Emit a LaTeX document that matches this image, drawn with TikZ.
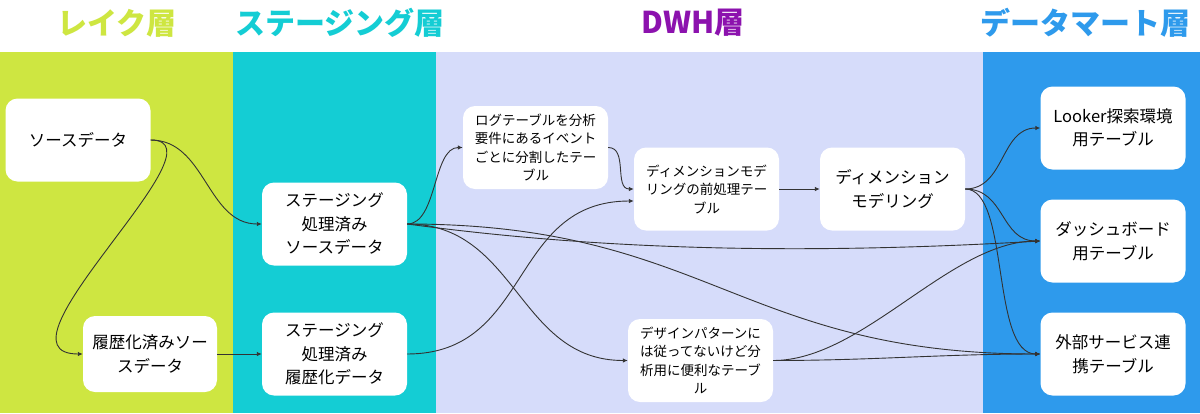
\documentclass[tikz,border=0pt]{standalone}
\usepackage{fontspec}
\setmainfont{Noto Sans CJK JP}
\usetikzlibrary{arrows.meta}
\usepackage{xcolor}
\definecolor{lakecol}{HTML}{CEE641}
\definecolor{stgcol}{HTML}{14CDD4}
\definecolor{dwhcol}{HTML}{D6DCFA}
\definecolor{dwhtitle}{HTML}{8C12AE}
\definecolor{martcol}{HTML}{2E9AEC}
\definecolor{linkcol}{HTML}{333333}

\begin{document}
\begin{tikzpicture}[x=1pt,y=-1pt,
  box/.style={fill=white, rounded corners=12pt, minimum width=145pt, minimum height=83pt, align=center, inner sep=0pt},
  bigtxt/.style={font=\fontsize{16.5}{23.5}\selectfont},
  smalltxt/.style={font=\fontsize{13.5}{18.5}\selectfont},
  layer/.style={font=\fontsize{30}{30}\selectfont\bfseries},
  link/.style={draw=linkcol, line width=0.9pt, -{Latex[length=5pt,width=4.5pt]}}]

\useasboundingbox (0,0) rectangle (1200,413);

%%%%%% the four layers %%%
{
\fill[white] (0,0) rectangle (1200,413);
\fill[lakecol] (0,52) rectangle (233,413);
\fill[stgcol] (233,52) rectangle (436,413);
\fill[dwhcol] (436,52) rectangle (983,413);
\fill[martcol] (983,52) rectangle (1200,413);

\node[layer, text=lakecol] (t-lake) at (117,23) {レイク層};
\node[layer, text=stgcol] (t-stg) at (340,23) {ステージング層};
\node[layer, text=dwhtitle] (t-dwh) at (693,23) {DWH層};
\node[layer, text=martcol] (t-mart) at (1085,23) {データマート層};
}

%%%%%%%%%% tables %%%%%%%%
{
\node[box, bigtxt] (src) at (78,140) {ソースデータ};
\node[box, bigtxt, minimum width=134pt, minimum height=76pt] (hist) at (150,354) {履歴化済みソー\\スデータ};

\node[box, bigtxt] (stgsrc) at (334.5,224) {ステージング\\処理済み\\ソースデータ};
\node[box, bigtxt] (stghist) at (334.5,354) {ステージング\\処理済み\\履歴化データ};

\node[box, smalltxt] (log) at (535.5,147.5) {ログテーブルを分析\\要件にあるイベント\\ごとに分割したテー\\ブル};
\node[box, smalltxt] (pre) at (706.5,189) {ディメンションモデ\\リングの前処理テー\\ブル};
\node[box, bigtxt] (dim) at (892.5,189) {ディメンション\\モデリング};
\node[box, smalltxt] (design) at (700.5,360.5) {デザインパターンに\\は従ってないけど分\\析用に便利なテーブ\\ル};

\node[box, bigtxt] (looker) at (1113,128) {Looker探索環境\\用テーブル};
\node[box, bigtxt] (dash) at (1113,241) {ダッシュボード\\用テーブル};
\node[box, bigtxt] (ext) at (1113,354) {外部サービス連\\携テーブル};
}

%%%%%%%%%%%%     flows   %%%%%%%%%%%%
{
\draw[link] (src.east) .. controls +(55,0) and +(-55,0) .. (stgsrc.west);
\draw[link] (src.east) .. controls +(80,0) and +(-100,0) .. (hist.west);
\draw[link] (hist.east) -- (stghist.west);

\draw[link] (stgsrc.east) .. controls +(30,0) and +(-30,0) .. (log.west);
\draw[link] (log.east) .. controls +(20,0) and +(-20,0) .. (pre.west);
\draw[link] (stghist.east) .. controls +(125,0) and +(-125,0) .. ([yshift=-12pt]pre.west);
\draw[link] (stgsrc.east) .. controls +(110,0) and +(-110,0) .. (design.west);
\draw[link] (pre.east) -- (dim.west);

\draw[link] (stgsrc.east) .. controls (600,250) and (800,255) .. (dash.west);
\draw[link] (stgsrc.east) .. controls +(300,0) and +(-300,0) .. (ext.west);
\draw[link] (dim.east) .. controls +(40,0) and +(-40,0) .. (looker.west);
\draw[link] (dim.east) .. controls +(40,0) and +(-40,0) .. (dash.west);
\draw[link] (dim.east) .. controls +(45,0) and +(-50,0) .. (ext.west);
\draw[link] (design.east) .. controls +(90,0) and +(-90,0) .. (dash.west);
\draw[link] (design.east) .. controls +(100,0) and +(-100,0) .. (ext.west);
}

\end{tikzpicture}
\end{document}
